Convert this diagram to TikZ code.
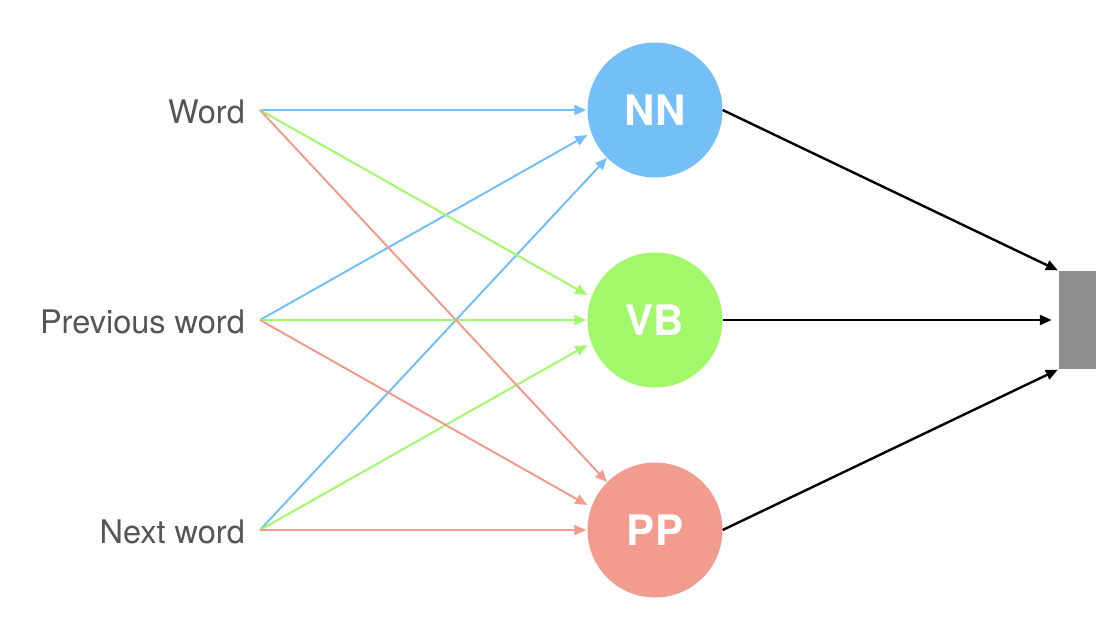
\documentclass[tikz,border=0pt]{standalone}
\usepackage{fontspec}
\setmainfont{TeX Gyre Heros}
\usetikzlibrary{arrows.meta}
\definecolor{nnblue}{HTML}{74BFF8}
\definecolor{vbgreen}{HTML}{A3F76B}
\definecolor{ppred}{HTML}{F29B8F}
\definecolor{boxgray}{HTML}{8E8E8E}
\definecolor{labgray}{HTML}{555555}
\tikzset{
  circ/.style={circle, minimum size=135pt, inner sep=0pt, text=white,
    font=\fontsize{42}{42}\selectfont\bfseries},
  lab/.style={anchor=east, inner sep=0pt, text=labgray,
    font=\fontsize{32.5}{32.5}\selectfont},
  conn/.style={line width=2pt, -{Triangle[length=12pt,width=10pt]}},
  outconn/.style={line width=2.4pt, black, -{Triangle[length=12pt,width=10pt]}}
}
\begin{document}
\begin{tikzpicture}[x=1pt,y=-1pt]
\useasboundingbox (0,0) rectangle (1096,638);
% labels and source points
\node[lab] (lw) at (245,112) {Word};
\node[lab] (lp) at (245,322) {Previous word};
\node[lab] (ln) at (245,532) {Next word};
\coordinate (sw) at (260,110);
\coordinate (sp) at (260,320);
\coordinate (sn) at (260,530);
% circles
\node[circ, fill=nnblue] (NN) at (655,110) {NN};
\node[circ, fill=vbgreen] (VB) at (655,320) {VB};
\node[circ, fill=ppred] (PP) at (655,530) {PP};
% output box
\node[fill=boxgray, minimum width=37pt, minimum height=98pt, inner sep=0pt] (R) at (1077.5,320) {};
% target points
\coordinate (NNb) at ([yshift=-25pt]NN.west);
\coordinate (VBa) at ([yshift=25pt]VB.west);
\coordinate (VBc) at ([yshift=-25pt]VB.west);
\coordinate (PPb) at ([yshift=25pt]PP.west);
% blue
\draw[conn, nnblue] (sw) -- ([xshift=-1pt]NN.west);
\draw[conn, nnblue] (sp) -- (NNb);
\draw[conn, nnblue] (sn) -- (NN.south west);
% green
\draw[conn, vbgreen] (sw) -- (VBa);
\draw[conn, vbgreen] (sp) -- ([xshift=-1pt]VB.west);
\draw[conn, vbgreen] (sn) -- (VBc);
% red
\draw[conn, ppred] (sw) -- (PP.north west);
\draw[conn, ppred] (sp) -- (PPb);
\draw[conn, ppred] (sn) -- ([xshift=-1pt]PP.west);
% outputs
\draw[outconn, shorten >=1pt] (NN.east) -- (R.north west);
\draw[outconn, shorten >=7pt] (VB.east) -- (R.west);
\draw[outconn, shorten >=1pt] (PP.east) -- (R.south west);
\end{tikzpicture}
\end{document}
